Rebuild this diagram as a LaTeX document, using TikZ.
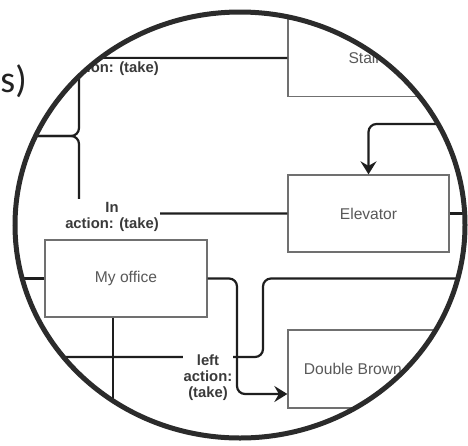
\documentclass[tikz,border=0pt]{standalone}
\usepackage{fontspec}
\setmainfont{Liberation Sans}
\newfontfamily\capfont{Carlito}
\usetikzlibrary{arrows.meta}
\definecolor{linkcol}{HTML}{1E1E1E}
\definecolor{boxcol}{HTML}{707070}
\definecolor{roomtext}{HTML}{595959}
\definecolor{tagtext}{HTML}{3A3A3A}
\definecolor{lenscol}{HTML}{2B2B2B}
\definecolor{captext}{HTML}{222222}
\begin{document}
\begin{tikzpicture}[x=1pt,y=-1pt,
  room/.style={draw=boxcol, line width=1.3pt, fill=white, minimum width=161pt,
    minimum height=77pt, inner sep=0pt, text=roomtext,
    font=\fontsize{15.6}{18}\selectfont},
  link/.style={draw=linkcol, line width=2.2pt, rounded corners=8pt},
  tip/.style={-{Stealth[length=13pt,width=16pt,inset=4.5pt]}},
  tag/.style={fill=white, text=tagtext, align=center, inner xsep=1pt,
    inner ysep=3pt, font=\bfseries\fontsize{14.8}{16}\selectfont},
]
\fill[white] (0,0) rectangle (468,445);
\useasboundingbox (0,0) rectangle (468,445);

% heading fragment left of the lens
\node[anchor=base east, inner sep=0pt, text=captext,
  font=\capfont\fontsize{38}{40}\selectfont] (caption) at (27,92) {s)};

\begin{scope}
  \clip (240,225) ellipse [x radius=225pt, y radius=213pt];

  % rooms
  \node[room] (stairs) at (368.5,58) {Stairs};
  \node[room] (elev) at (368.5,213.5) {Elevator};
  \node[room, minimum width=162pt] (office) at (126,278.5) {My office};
  \node[room, minimum height=78pt] (dbl) at (368.5,369) {Double Brown Box};

  % loose ends and bends of the connectors
  \coordinate (west1) at (-20,136);
  \coordinate (fork) at (79,136);
  \coordinate (east1) at (500,124);
  \coordinate (east2) at (500,213.5);
  \coordinate (west3) at (-20,278.5);
  \coordinate (east4) at (500,278.5);
  \coordinate (drop4) at (263,278.5);
  \coordinate (turn4) at (263,357);
  \coordinate (west4) at (-20,357);
  \coordinate (drop5) at (237,278.5);
  \coordinate (south6) at (113,500);

  % connectors
  \draw[link] (west1) -- (fork) |- (stairs.west);
  \draw[link] (west1) -- (fork) |- (elev.west);
  \draw[link, tip] (east1) -| (elev.north);
  \draw[link] (elev.east) -- (east2);
  \draw[link] (west3) -- (office.west);
  \draw[link, tip] (office.east) -- (drop5) |- ([yshift=-25pt]dbl.west);
  \draw[link] (east4) -- (drop4) -- (turn4) -- (west4);
  \draw[link] ([xshift=-13pt]office.south) -- (south6);

  % connector labels
  \node[tag] (tagstairs) at (112,68.5) {action: (take)};
  \node[tag] (tagelev) at (112,217) {In\\action: (take)};
  \node[tag] (tagleft) at (208,378) {left\\action:\\(take)};
\end{scope}

% lens rim
\draw[lenscol, line width=5pt] (240,225) ellipse [x radius=225pt, y radius=213pt];
\end{tikzpicture}
\end{document}
